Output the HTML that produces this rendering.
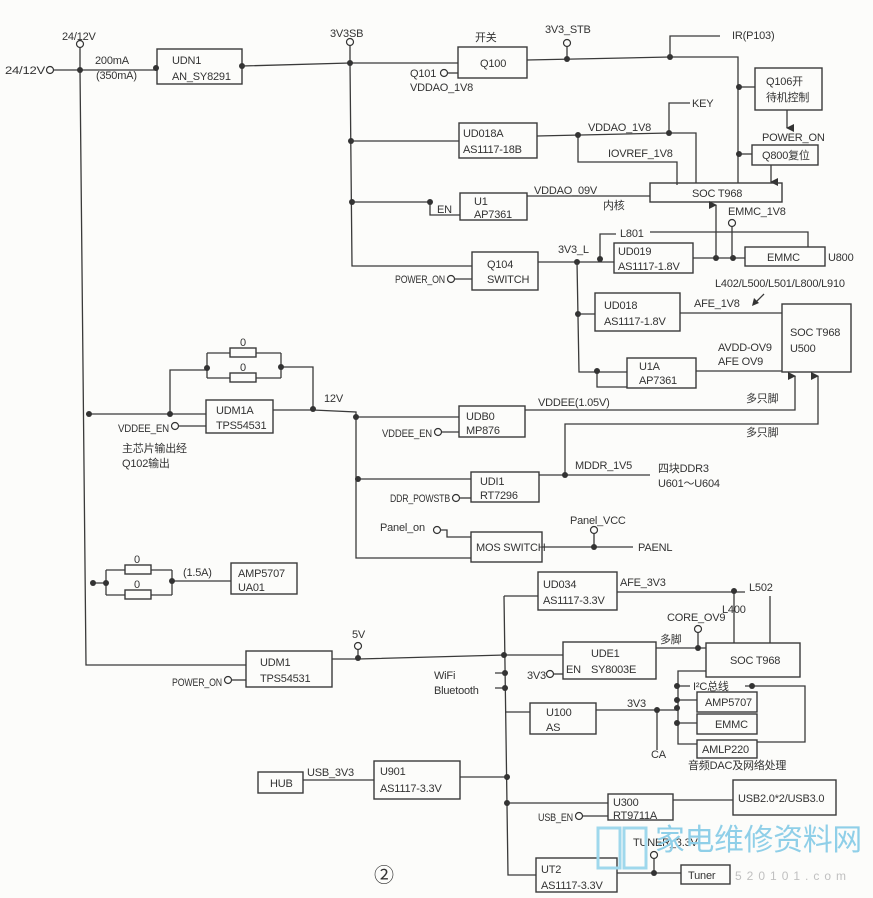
<!DOCTYPE html>
<html><head><meta charset="utf-8"><style>
html,body{margin:0;padding:0;background:#fcfcfa;}
svg{display:block}
text{font-family:"Liberation Sans","Noto Sans CJK SC",sans-serif;font-size:11px;fill:#333;letter-spacing:-0.2px}
.l{stroke:#3a3a3a;stroke-width:1.3;fill:none}
.b{stroke:#3a3a3a;stroke-width:1.4;fill:none}
.d{fill:#333}
.c{fill:#fcfcfa;stroke:#333;stroke-width:1.2}
</style></head><body>
<svg width="873" height="898" viewBox="0 0 873 898" xmlns="http://www.w3.org/2000/svg">
<defs><marker id="ar" markerWidth="8" markerHeight="8" refX="4" refY="7" orient="auto-start-reverse" markerUnits="userSpaceOnUse"><path d="M0,0 L8,0 L4,8z" fill="#333"/></marker></defs>

<text x="62" y="40">24/12V</text>
<circle class="c" cx="80" cy="44" r="3.5"/>
<text x="5" y="74" textLength="40" lengthAdjust="spacingAndGlyphs">24/12V</text>
<circle class="c" cx="50" cy="70" r="3.5"/>
<path class="l" d="M54,70 H157 M80,48 V70 L86,665 H246"/>
<circle class="d" cx="80" cy="70" r="3"/>
<text x="95" y="64">200mA</text><text x="96" y="79">(350mA)</text>
<rect class="b" x="157" y="49" width="85" height="35"/>
<text x="172" y="64">UDN1</text><text x="172" y="80">AN_SY8291</text>
<circle class="d" cx="156" cy="68" r="3"/><circle class="d" cx="242" cy="66" r="3"/>
<path class="l" d="M242,66 L350,63 H458"/>
<text x="330" y="37">3V3SB</text><circle class="c" cx="350" cy="42" r="3.5"/>
<path class="l" d="M350,46 V63 L352,266 H472"/>
<circle class="d" cx="350" cy="63" r="3"/><circle class="d" cx="351" cy="141" r="3"/><circle class="d" cx="352" cy="202" r="3"/>

<text x="475" y="41">开关</text>
<rect class="b" x="458" y="47" width="69" height="31"/><text x="480" y="67">Q100</text>
<text x="410" y="77">Q101</text><circle class="c" cx="444" cy="73" r="3.5"/><path class="l" d="M448,73 H458"/>
<text x="410" y="91">VDDAO_1V8</text>
<path class="l" d="M527,60 L670,57 H738 V183"/>
<text x="545" y="33">3V3_STB</text><circle class="c" cx="567" cy="43" r="3.5"/>
<path class="l" d="M567,47 V59"/><circle class="d" cx="567" cy="59" r="3"/>
<circle class="d" cx="670" cy="57" r="3"/>
<path class="l" d="M670,57 V36 H720"/><text x="732" y="39">IR(P103)</text>
<circle class="d" cx="739" cy="87" r="3"/><path class="l" d="M739,87 H755"/>
<rect class="b" x="755" y="68" width="67" height="42"/>
<text x="766" y="85">Q106开</text><text x="766" y="101">待机控制</text>
<path class="l" d="M787,110 V128" marker-end="url(#ar)"/>
<text x="762" y="141">POWER_ON</text>
<rect class="b" x="752" y="145" width="66" height="20"/><text x="762" y="159">Q800复位</text>
<circle class="d" cx="739" cy="154" r="3"/><path class="l" d="M739,154 H752"/>
<path class="l" d="M771,165 V182" marker-end="url(#ar)"/>
<rect class="b" x="650" y="183" width="132" height="19"/><text x="692" y="197">SOC T968</text>

<rect class="b" x="459" y="123" width="78" height="35"/>
<text x="463" y="137">UD018A</text><text x="463" y="153">AS1117-18B</text>
<path class="l" d="M351,141 H459 M537,136 L669,133 H696 V183 M578,136 V162 H677 V185 M669,133 V103 H690"/>
<circle class="d" cx="578" cy="135" r="3"/><circle class="d" cx="669" cy="133" r="3"/>
<text x="588" y="131">VDDAO_1V8</text><text x="692" y="107">KEY</text>
<text x="608" y="157">IOVREF_1V8</text>

<rect class="b" x="460" y="193" width="67" height="27"/>
<text x="474" y="205">U1</text><text x="474" y="218">AP7361</text>
<path class="l" d="M352,202 H430 M430,202 V215 H460 M527,196 H650"/>
<circle class="d" cx="430" cy="202" r="3"/><text x="437" y="213">EN</text>
<text x="534" y="194">VDDAO_09V</text><text x="603" y="209">内核</text>

<rect class="b" x="472" y="252" width="66" height="38"/>
<text x="487" y="268">Q104</text><text x="487" y="283">SWITCH</text>
<text x="395" y="283" textLength="50" lengthAdjust="spacingAndGlyphs">POWER_ON</text><circle class="c" cx="451" cy="279" r="3.5"/><path class="l" d="M455,279 H472"/>
<path class="l" d="M538,262 H614 M600,259 V234 H616 M650,232 H808 V247"/>
<text x="558" y="253">3V3_L</text><text x="620" y="237">L801</text>
<circle class="d" cx="577" cy="262" r="3"/><circle class="d" cx="600" cy="259" r="3"/>
<rect class="b" x="614" y="243" width="79" height="30"/>
<text x="618" y="255">UD019</text><text x="618" y="270">AS1117-1.8V</text>
<path class="l" d="M693,258 H745"/>
<circle class="d" cx="716" cy="258" r="3"/><circle class="d" cx="733" cy="258" r="3"/>
<path class="l" d="M716,258 V205" marker-end="url(#ar)"/>
<text x="728" y="215">EMMC_1V8</text><circle class="c" cx="732" cy="223" r="3.5"/><path class="l" d="M732,227 V258"/>
<rect class="b" x="745" y="247" width="80" height="19"/><text x="767" y="261">EMMC</text>
<text x="828" y="261">U800</text>

<path class="l" d="M577,262 L579,372 H627 M597,372 V387 H627"/>
<circle class="d" cx="578" cy="314" r="3"/><circle class="d" cx="597" cy="371" r="3"/>
<path class="l" d="M578,314 H595"/>
<rect class="b" x="595" y="293" width="85" height="38"/>
<text x="604" y="309">UD018</text><text x="604" y="325">AS1117-1.8V</text>
<path class="l" d="M680,313 H782"/><text x="694" y="307">AFE_1V8</text>
<text x="715" y="287">L402/L500/L501/L800/L910</text>
<path class="l" d="M764,294 L755,303"/><path class="d" d="M752,306 L754,298 L759,303z"/>
<rect class="b" x="782" y="304" width="69" height="68"/>
<text x="790" y="336">SOC T968</text><text x="790" y="352">U500</text>
<rect class="b" x="627" y="358" width="69" height="30"/>
<text x="639" y="370">U1A</text><text x="639" y="384">AP7361</text>
<path class="l" d="M696,371 H782"/>
<text x="718" y="351">AVDD-OV9</text><text x="718" y="365">AFE OV9</text>

<rect class="b" x="206" y="400" width="67" height="33"/>
<text x="216" y="414">UDM1A</text><text x="216" y="429">TPS54531</text>
<path class="l" d="M86,414 H206 M170,414 V370 H207 M207,353 V378 M281,353 V378 M207,353 H230 M256,353 H281 M207,378 H230 M256,378 H281 M281,367 H313 V409 M273,410 H313 L356,412 V558 H471 M356,417 H459"/>
<rect class="b" x="230" y="348" width="26" height="9"/><rect class="b" x="230" y="373" width="26" height="9"/>
<text x="240" y="346">0</text><text x="240" y="371">0</text>
<circle class="d" cx="89" cy="414" r="3"/><circle class="d" cx="170" cy="414" r="3"/>
<circle class="d" cx="207" cy="368" r="3"/><circle class="d" cx="281" cy="367" r="3"/>
<circle class="d" cx="313" cy="409" r="3"/><circle class="d" cx="356" cy="417" r="3"/>
<text x="324" y="402">12V</text>
<text x="118" y="432" textLength="51" lengthAdjust="spacingAndGlyphs">VDDEE_EN</text><circle class="c" cx="175" cy="426" r="3.5"/><path class="l" d="M179,426 H206"/>
<text x="122" y="452">主芯片输出经</text><text x="122" y="467">Q102输出</text>

<rect class="b" x="459" y="406" width="66" height="31"/>
<text x="466" y="420">UDB0</text><text x="466" y="434">MP876</text>
<text x="382" y="437" textLength="50" lengthAdjust="spacingAndGlyphs">VDDEE_EN</text><circle class="c" cx="438" cy="432" r="3.5"/><path class="l" d="M442,432 H459"/>
<path class="l" d="M525,410 H795 V376" marker-end="url(#ar)"/>
<path class="l" d="M565,475 V424 H818 V376" marker-end="url(#ar)"/>
<text x="538" y="406">VDDEE(1.05V)</text>
<text x="746" y="402">多只脚</text><text x="746" y="436">多只脚</text>

<rect class="b" x="471" y="472" width="68" height="30"/>
<text x="480" y="485">UDI1</text><text x="480" y="499">RT7296</text>
<circle class="d" cx="358" cy="479" r="3"/><path class="l" d="M358,479 H471"/>
<text x="390" y="502" textLength="60" lengthAdjust="spacingAndGlyphs">DDR_POWSTB</text><circle class="c" cx="456" cy="498" r="3.5"/><path class="l" d="M460,498 H471"/>
<path class="l" d="M539,475 H650"/><circle class="d" cx="565" cy="475" r="3"/>
<text x="575" y="469">MDDR_1V5</text><text x="658" y="472">四块DDR3</text><text x="658" y="487">U601～U604</text>

<text x="380" y="531">Panel_on</text><circle class="c" cx="437" cy="530" r="3.5"/><path class="l" d="M441,530 H447 V537 H471"/>
<rect class="b" x="471" y="532" width="71" height="30"/><text x="476" y="551">MOS SWITCH</text>
<path class="l" d="M542,547 H633 M594,534 V547"/>
<text x="570" y="524">Panel_VCC</text><circle class="c" cx="594" cy="530" r="3.5"/><circle class="d" cx="594" cy="547" r="3"/>
<text x="638" y="551">PAENL</text>

<path class="l" d="M92,583 H106 M106,570 V595 M172,570 V595 M106,570 H125 M151,570 H172 M106,595 H125 M151,595 H172 M172,581 H231"/>
<rect class="b" x="125" y="565" width="26" height="9"/><rect class="b" x="125" y="590" width="26" height="9"/>
<text x="134" y="563">0</text><text x="134" y="588">0</text>
<circle class="d" cx="93" cy="583" r="3"/><circle class="d" cx="106" cy="583" r="3"/><circle class="d" cx="172" cy="581" r="3"/>
<text x="183" y="576">(1.5A)</text>
<rect class="b" x="231" y="563" width="66" height="31"/><text x="238" y="577">AMP5707</text><text x="238" y="591">UA01</text>

<rect class="b" x="246" y="651" width="86" height="36"/><text x="260" y="666">UDM1</text><text x="260" y="682">TPS54531</text>
<text x="172" y="686" textLength="50" lengthAdjust="spacingAndGlyphs">POWER_ON</text><circle class="c" cx="228" cy="680" r="3.5"/><path class="l" d="M232,680 H246"/>
<path class="l" d="M332,659 H358 L505,655 H563 M358,650 V658"/>
<text x="352" y="638">5V</text><circle class="c" cx="358" cy="646" r="3.5"/><circle class="d" cx="358" cy="658" r="3"/>
<path class="l" d="M504,596 H538 M504,596 L508,875 H536"/>
<circle class="d" cx="504" cy="655" r="3"/><circle class="d" cx="505" cy="673" r="3"/><circle class="d" cx="505" cy="688" r="3"/>
<circle class="d" cx="507" cy="777" r="3"/><circle class="d" cx="507" cy="803" r="3"/>
<path class="l" d="M495,673 H505 M495,688 H505"/>
<text x="434" y="679">WiFi</text><text x="434" y="694">Bluetooth</text>

<rect class="b" x="538" y="572" width="79" height="38"/><text x="543" y="588">UD034</text><text x="543" y="604">AS1117-3.3V</text>
<path class="l" d="M617,592 H745 M734,592 V643 M770,596 V643"/>
<circle class="d" cx="734" cy="591" r="3"/>
<text x="620" y="586">AFE_3V3</text><text x="749" y="591">L502</text><text x="722" y="613">L400</text>
<rect class="b" x="563" y="642" width="93" height="37"/><text x="591" y="657">UDE1</text><text x="591" y="673">SY8003E</text>
<text x="566" y="673">EN</text>
<text x="527" y="679">3V3</text><circle class="c" cx="550" cy="674" r="3.5"/><path class="l" d="M554,674 H563"/>
<path class="l" d="M656,648 H706 M698,633 V648"/>
<text x="660" y="643">多脚</text><text x="667" y="621">CORE_OV9</text><circle class="c" cx="698" cy="629" r="3.5"/><circle class="d" cx="698" cy="648" r="3"/>
<rect class="b" x="706" y="643" width="94" height="34"/><text x="730" y="664">SOC T968</text>

<path class="l" d="M706,671 H678 V744 H697 M676,686 H690 M745,686 H805 V742 H757 M676,700 H697 M676,723 H697"/>
<circle class="d" cx="677" cy="686" r="3"/><circle class="d" cx="677" cy="700" r="3"/><circle class="d" cx="677" cy="708" r="3"/><circle class="d" cx="677" cy="723" r="3"/><circle class="d" cx="752" cy="686" r="3"/>
<text x="693" y="690">I²C总线</text>
<rect class="b" x="697" y="692" width="60" height="20"/><text x="705" y="706">AMP5707</text>
<rect class="b" x="697" y="714" width="60" height="20"/><text x="715" y="728">EMMC</text>
<rect class="b" x="697" y="740" width="60" height="18"/><text x="702" y="753">AMLP220</text>
<text x="688" y="769">音频DAC及网络处理</text>

<rect class="b" x="530" y="703" width="66" height="31"/><text x="546" y="716">U100</text><text x="546" y="731">AS</text>
<path class="l" d="M505,712 H530 M596,710 H677 M657,710 V750"/>
<circle class="d" cx="657" cy="710" r="3"/>
<text x="627" y="707">3V3</text><text x="651" y="758">CA</text>

<rect class="b" x="258" y="772" width="45" height="21"/><text x="270" y="787">HUB</text>
<text x="307" y="776">USB_3V3</text>
<path class="l" d="M303,780 H374 M460,777 H507"/>
<rect class="b" x="374" y="761" width="86" height="38"/><text x="380" y="775">U901</text><text x="380" y="792">AS1117-3.3V</text>

<path class="l" d="M507,803 H608 M673,800 H733"/>
<rect class="b" x="608" y="794" width="65" height="26"/><text x="613" y="806">U300</text><text x="613" y="819">RT9711A</text>
<text x="538" y="821" textLength="35" lengthAdjust="spacingAndGlyphs">USB_EN</text><circle class="c" cx="579" cy="816" r="3.5"/><path class="l" d="M583,816 H608"/>
<rect class="b" x="733" y="780" width="103" height="35"/><text x="738" y="802">USB2.0*2/USB3.0</text>

<rect class="b" x="536" y="858" width="81" height="34"/><text x="541" y="873">UT2</text><text x="541" y="889">AS1117-3.3V</text>
<path class="l" d="M617,873 H681 M654,859 V873"/>
<text x="633" y="846">TUNER_3.3V</text><circle class="c" cx="654" cy="855" r="3.5"/><circle class="d" cx="654" cy="873" r="3"/>
<rect class="b" x="681" y="865" width="49" height="19"/><text x="688" y="879">Tuner</text>
<text x="374" y="882" style="font-size:20px">②</text>

<rect x="598" y="828" width="22" height="40" fill="none" stroke="#9fd8ec" stroke-width="3"/>
<rect x="624" y="828" width="22" height="40" fill="none" stroke="#9fd8ec" stroke-width="3"/>
<text x="655" y="850" textLength="207" lengthAdjust="spacingAndGlyphs" style="font-size:30px;fill:#8fcfe8">家电维修资料网</text>
<text x="735" y="880" style="font-size:12px;fill:#c0c0c0;letter-spacing:5px">520101.com</text>
</svg>
</body></html>
